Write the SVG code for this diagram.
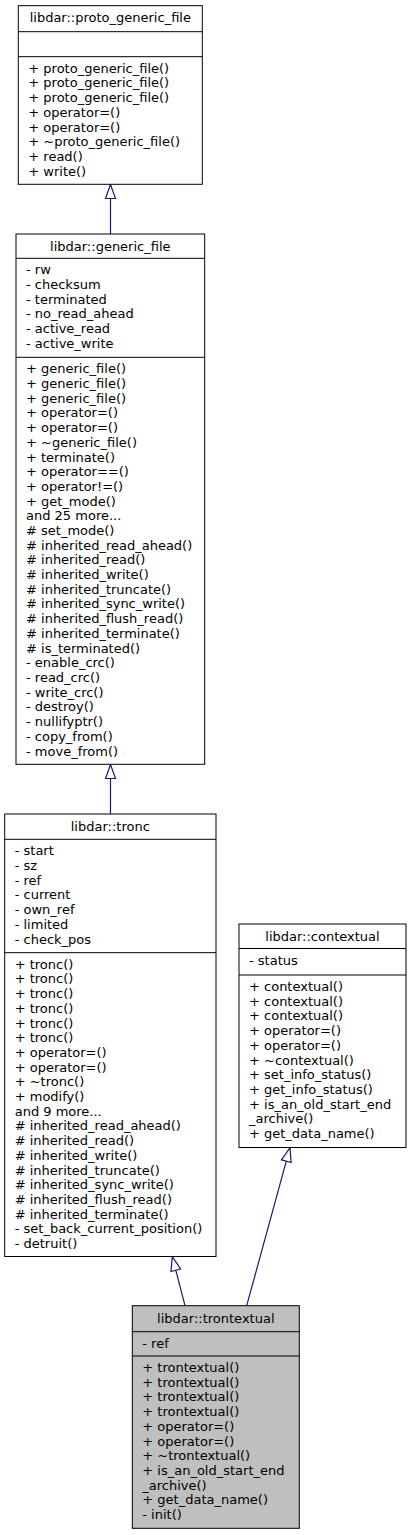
<svg xmlns="http://www.w3.org/2000/svg" width="411" height="1535" viewBox="0 0 411 1535">
<style>
.box{fill:#ffffff;stroke:#000000;stroke-width:1}
.gray{fill:#bfbfbf}
.sep{stroke:#000000;stroke-width:1}
.t{font-family:"DejaVu Sans",sans-serif;font-size:13px;fill:#000000;text-anchor:middle}
.m{font-family:"DejaVu Sans",sans-serif;font-size:13px;fill:#000000}
.edge{fill:none;stroke:#191970;stroke-width:1.2}
</style>
<defs>
<marker id="inh" markerUnits="userSpaceOnUse" markerWidth="14" markerHeight="10" viewBox="0 0 14 10" refX="14" refY="5" orient="auto" overflow="visible">
<path d="M0,0 L14,5 L0,10 Z" fill="#ffffff" stroke="#191970" stroke-width="1.2"/>
</marker>
</defs>
<g id="connectors">
<path class="edge" d="M110.5,234 L110.5,184.5" marker-end="url(#inh)"/>
<path class="edge" d="M110.5,814 L110.5,764.5" marker-end="url(#inh)"/>
<path class="edge" d="M185,1305.7 L172.3,1256.7" marker-end="url(#inh)"/>
<path class="edge" d="M246.7,1305.7 L290,1147.7" marker-end="url(#inh)"/>
</g>
<g id="proto_generic_file">
<rect class="box" x="18.3" y="5.7" width="184" height="178.6"/>
<line class="sep" x1="18.3" y1="31.7" x2="202.3" y2="31.7"/>
<line class="sep" x1="18.3" y1="56.7" x2="202.3" y2="56.7"/>
<text class="t" x="110.3" y="22.2">libdar::proto_generic_file</text>
<text class="m" y="72.7"><tspan x="28.3">+ proto_generic_file()</tspan><tspan x="28.3" dy="14.7">+ proto_generic_file()</tspan><tspan x="28.3" dy="14.7">+ proto_generic_file()</tspan><tspan x="28.3" dy="14.7">+ operator=()</tspan><tspan x="28.3" dy="14.7">+ operator=()</tspan><tspan x="28.3" dy="14.7">+ ~proto_generic_file()</tspan><tspan x="28.3" dy="14.7">+ read()</tspan><tspan x="28.3" dy="14.7">+ write()</tspan></text>
</g>
<g id="generic_file">
<rect class="box" x="16" y="234" width="188.7" height="530.3"/>
<line class="sep" x1="16" y1="258.3" x2="204.7" y2="258.3"/>
<line class="sep" x1="16" y1="357.3" x2="204.7" y2="357.3"/>
<text class="t" x="110.3" y="250.5">libdar::generic_file</text>
<text class="m" y="274.3"><tspan x="26">- rw</tspan><tspan x="26" dy="14.7">- checksum</tspan><tspan x="26" dy="14.7">- terminated</tspan><tspan x="26" dy="14.7">- no_read_ahead</tspan><tspan x="26" dy="14.7">- active_read</tspan><tspan x="26" dy="14.7">- active_write</tspan></text>
<text class="m" y="373.3"><tspan x="26">+ generic_file()</tspan><tspan x="26" dy="14.7">+ generic_file()</tspan><tspan x="26" dy="14.7">+ generic_file()</tspan><tspan x="26" dy="14.7">+ operator=()</tspan><tspan x="26" dy="14.7">+ operator=()</tspan><tspan x="26" dy="14.7">+ ~generic_file()</tspan><tspan x="26" dy="14.7">+ terminate()</tspan><tspan x="26" dy="14.7">+ operator==()</tspan><tspan x="26" dy="14.7">+ operator!=()</tspan><tspan x="26" dy="14.7">+ get_mode()</tspan><tspan x="26" dy="14.7">and 25 more...</tspan><tspan x="26" dy="14.7"># set_mode()</tspan><tspan x="26" dy="14.7"># inherited_read_ahead()</tspan><tspan x="26" dy="14.7"># inherited_read()</tspan><tspan x="26" dy="14.7"># inherited_write()</tspan><tspan x="26" dy="14.7"># inherited_truncate()</tspan><tspan x="26" dy="14.7"># inherited_sync_write()</tspan><tspan x="26" dy="14.7"># inherited_flush_read()</tspan><tspan x="26" dy="14.7"># inherited_terminate()</tspan><tspan x="26" dy="14.7"># is_terminated()</tspan><tspan x="26" dy="14.7">- enable_crc()</tspan><tspan x="26" dy="14.7">- read_crc()</tspan><tspan x="26" dy="14.7">- write_crc()</tspan><tspan x="26" dy="14.7">- destroy()</tspan><tspan x="26" dy="14.7">- nullifyptr()</tspan><tspan x="26" dy="14.7">- copy_from()</tspan><tspan x="26" dy="14.7">- move_from()</tspan></text>
</g>
<g id="tronc">
<rect class="box" x="4.7" y="814" width="211.3" height="442.5"/>
<line class="sep" x1="4.7" y1="839.3" x2="216" y2="839.3"/>
<line class="sep" x1="4.7" y1="952.7" x2="216" y2="952.7"/>
<text class="t" x="110.3" y="830.5">libdar::tronc</text>
<text class="m" y="855.3"><tspan x="14.7">- start</tspan><tspan x="14.7" dy="14.7">- sz</tspan><tspan x="14.7" dy="14.7">- ref</tspan><tspan x="14.7" dy="14.7">- current</tspan><tspan x="14.7" dy="14.7">- own_ref</tspan><tspan x="14.7" dy="14.7">- limited</tspan><tspan x="14.7" dy="14.7">- check_pos</tspan></text>
<text class="m" y="968.7"><tspan x="14.7">+ tronc()</tspan><tspan x="14.7" dy="14.7">+ tronc()</tspan><tspan x="14.7" dy="14.7">+ tronc()</tspan><tspan x="14.7" dy="14.7">+ tronc()</tspan><tspan x="14.7" dy="14.7">+ tronc()</tspan><tspan x="14.7" dy="14.7">+ tronc()</tspan><tspan x="14.7" dy="14.7">+ operator=()</tspan><tspan x="14.7" dy="14.7">+ operator=()</tspan><tspan x="14.7" dy="14.7">+ ~tronc()</tspan><tspan x="14.7" dy="14.7">+ modify()</tspan><tspan x="14.7" dy="14.7">and 9 more...</tspan><tspan x="14.7" dy="14.7"># inherited_read_ahead()</tspan><tspan x="14.7" dy="14.7"># inherited_read()</tspan><tspan x="14.7" dy="14.7"># inherited_write()</tspan><tspan x="14.7" dy="14.7"># inherited_truncate()</tspan><tspan x="14.7" dy="14.7"># inherited_sync_write()</tspan><tspan x="14.7" dy="14.7"># inherited_flush_read()</tspan><tspan x="14.7" dy="14.7"># inherited_terminate()</tspan><tspan x="14.7" dy="14.7">- set_back_current_position()</tspan><tspan x="14.7" dy="14.7">- detruit()</tspan></text>
</g>
<g id="contextual">
<rect class="box" x="239" y="924" width="167" height="223.5"/>
<line class="sep" x1="239" y1="948.5" x2="406" y2="948.5"/>
<line class="sep" x1="239" y1="975" x2="406" y2="975"/>
<text class="t" x="322.5" y="940.7">libdar::contextual</text>
<text class="m" y="964.5"><tspan x="249">- status</tspan></text>
<text class="m" y="991"><tspan x="249">+ contextual()</tspan><tspan x="249" dy="14.7">+ contextual()</tspan><tspan x="249" dy="14.7">+ contextual()</tspan><tspan x="249" dy="14.7">+ operator=()</tspan><tspan x="249" dy="14.7">+ operator=()</tspan><tspan x="249" dy="14.7">+ ~contextual()</tspan><tspan x="249" dy="14.7">+ set_info_status()</tspan><tspan x="249" dy="14.7">+ get_info_status()</tspan><tspan x="249" dy="14.7">+ is_an_old_start_end</tspan><tspan x="249" dy="14.7">_archive()</tspan><tspan x="249" dy="14.7">+ get_data_name()</tspan></text>
</g>
<g id="trontextual">
<rect class="box gray" x="132.3" y="1305.7" width="167" height="222.6"/>
<line class="sep" x1="132.3" y1="1331.7" x2="299.3" y2="1331.7"/>
<line class="sep" x1="132.3" y1="1356" x2="299.3" y2="1356"/>
<text class="t" x="215.8" y="1322.5">libdar::trontextual</text>
<text class="m" y="1347.7"><tspan x="142.3">- ref</tspan></text>
<text class="m" y="1372"><tspan x="142.3">+ trontextual()</tspan><tspan x="142.3" dy="14.7">+ trontextual()</tspan><tspan x="142.3" dy="14.7">+ trontextual()</tspan><tspan x="142.3" dy="14.7">+ trontextual()</tspan><tspan x="142.3" dy="14.7">+ operator=()</tspan><tspan x="142.3" dy="14.7">+ operator=()</tspan><tspan x="142.3" dy="14.7">+ ~trontextual()</tspan><tspan x="142.3" dy="14.7">+ is_an_old_start_end</tspan><tspan x="142.3" dy="14.7">_archive()</tspan><tspan x="142.3" dy="14.7">+ get_data_name()</tspan><tspan x="142.3" dy="14.7">- init()</tspan></text>
</g>
</svg>
